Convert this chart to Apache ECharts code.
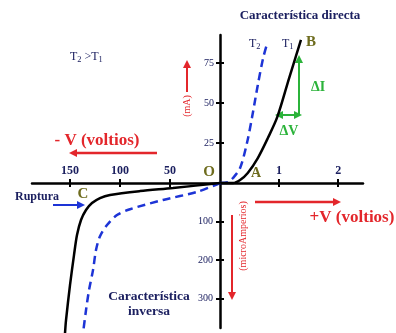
<!DOCTYPE html>
<html>
<head>
<meta charset="utf-8">
<script src="https://cdn.jsdelivr.net/npm/echarts@6/dist/echarts.min.js"></script>
<style>
html,body{margin:0;padding:0;background:#fff;}
#chart{width:396px;height:333px;}
</style>
</head>
<body>
<div id="chart"></div>
<script>
// ---- data (forward: V in volts, I in mA; reverse: V in volts, I in microamps) ----
const forwardT1 = [[0,0],[0.22,0],[0.34,1.9],[0.47,6.3],[0.64,15.6],[0.81,28.1],[0.97,41.3],[1.17,65.6],[1.37,89.4]];
const forwardT2 = [[0,0],[0.14,0.6],[0.22,3.1],[0.34,9.4],[0.46,25.6],[0.54,40.6],[0.64,61.3],[0.73,78.1],[0.80,87.5]];
const reverseT1 = [[0,0],[47,13],[80,21],[110,31],[120,39],[128,52],[134,70],[139,96],[143,135],[146,187],[150,265],[154,356],[155,390]];
const reverseT2 = [[0,0],[23,23],[57,44],[90,68],[103,83],[113,109],[120,138],[124,174],[127,226],[131,278],[134,330],[137,390]];
const fwdVTicks = [1, 2];
const fwdITicks = [25, 50, 75];
const revVTicks = [50, 100, 150];
const revITicks = [100, 200, 300];

const NAVY = '#1c2060', RED = '#e3262b', GREEN = '#2bb33a', OLIVE = '#6e6c1e', BLUE = '#1d34d6';
const SERIF = 'Liberation Serif';

function axisBase(extra) {
  return Object.assign({
    type: 'value',
    axisLine: { show: true, onZero: false, lineStyle: { color: '#000', width: 2.5 } },
    splitLine: { show: false }
  }, extra);
}

const chart = echarts.init(document.getElementById('chart'));

function arrow(x1, y1, x2, y2, color, w, both) {
  const els = [];
  const ang = Math.atan2(y2 - y1, x2 - x1);
  const L = 8, H = 4;
  function head(px, py, a) {
    const bx = px - L * Math.cos(a), by = py - L * Math.sin(a);
    return {
      type: 'polygon',
      shape: { points: [[px, py], [bx + H * Math.sin(a), by - H * Math.cos(a)], [bx - H * Math.sin(a), by + H * Math.cos(a)]] },
      style: { fill: color }
    };
  }
  const sx = both ? x1 + (L - 2) * Math.cos(ang) : x1, sy = both ? y1 + (L - 2) * Math.sin(ang) : y1;
  els.push({ type: 'line', shape: { x1: sx, y1: sy, x2: x2 - (L - 2) * Math.cos(ang), y2: y2 - (L - 2) * Math.sin(ang) }, style: { stroke: color, lineWidth: w } });
  els.push(head(x2, y2, ang));
  if (both) els.push(head(x1, y1, ang + Math.PI));
  return { type: 'group', children: els };
}

function txt(x, y, text, color, size, bold, opts) {
  return Object.assign({
    type: 'text', x: x, y: y,
    style: Object.assign({ text: text, fill: color, font: (bold ? 'bold ' : '') + size + 'px "' + SERIF + '"', align: 'center', verticalAlign: 'middle' }, opts && opts.style)
  }, opts && opts.el);
}

function subText(x, y, parts, size) {
  return {
    type: 'text', x: x, y: y,
    style: {
      text: parts, align: 'left', verticalAlign: 'middle',
      rich: {
        n: { fontFamily: SERIF, fontSize: size, fill: NAVY, color: NAVY },
        s: { fontFamily: SERIF, fontSize: size * 0.7, fill: NAVY, color: NAVY, padding: [size * 0.45, 0, 0, 0] }
      }
    }
  };
}

const option = {
  backgroundColor: '#fff',
  animation: false,
  grid: [
    { left: 220, right: 33, top: 35, bottom: 150 },
    { left: 32, right: 176, top: 183, bottom: 5 }
  ],
  xAxis: [
    axisBase({ gridIndex: 0, position: 'bottom', min: 0, max: 2.42, interval: 1,
      axisTick: { show: true, inside: false, length: 4, lineStyle: { color: '#000', width: 2 }, customValues: fwdVTicks },
      axisLabel: { show: true, inside: true, margin: 6, customValues: fwdVTicks, color: NAVY, fontFamily: SERIF, fontWeight: 'bold', fontSize: 12 } }),
    axisBase({ gridIndex: 0, position: 'bottom', min: 0, max: 2.42, interval: 1, axisLine: { show: false },
      axisTick: { show: true, inside: true, length: 4, lineStyle: { color: '#000', width: 2 }, customValues: fwdVTicks },
      axisLabel: { show: false } }),
    axisBase({ gridIndex: 1, position: 'top', inverse: true, min: 0, max: 188, interval: 50,
      axisTick: { show: true, inside: false, length: 4, lineStyle: { color: '#000', width: 2 }, customValues: revVTicks },
      axisLabel: { show: true, margin: 6, customValues: revVTicks, color: NAVY, fontFamily: SERIF, fontWeight: 'bold', fontSize: 12 } }),
    axisBase({ gridIndex: 1, position: 'top', inverse: true, min: 0, max: 188, interval: 50, axisLine: { show: false },
      axisTick: { show: true, inside: true, length: 4, lineStyle: { color: '#000', width: 2 }, customValues: revVTicks },
      axisLabel: { show: false } })
  ],
  yAxis: [
    axisBase({ gridIndex: 0, position: 'left', min: 0, max: 92.5, interval: 25,
      axisTick: { show: true, inside: false, length: 4, lineStyle: { color: '#000', width: 2 }, customValues: fwdITicks },
      axisLabel: { show: true, margin: 6, customValues: fwdITicks, color: NAVY, fontFamily: SERIF, fontSize: 10 } }),
    axisBase({ gridIndex: 0, position: 'left', min: 0, max: 92.5, interval: 25, axisLine: { show: false },
      axisTick: { show: true, inside: true, length: 4, lineStyle: { color: '#000', width: 2 }, customValues: fwdITicks },
      axisLabel: { show: false } }),
    axisBase({ gridIndex: 1, position: 'right', inverse: true, min: 0, max: 376, interval: 100,
      axisTick: { show: true, inside: false, length: 4, lineStyle: { color: '#000', width: 2 }, customValues: revITicks },
      axisLabel: { show: true, inside: true, margin: 7, customValues: revITicks, color: NAVY, fontFamily: SERIF, fontSize: 10 } }),
    axisBase({ gridIndex: 1, position: 'right', inverse: true, min: 0, max: 376, interval: 100, axisLine: { show: false },
      axisTick: { show: true, inside: true, length: 4, lineStyle: { color: '#000', width: 2 }, customValues: revITicks },
      axisLabel: { show: false } })
  ],
  series: [
    { type: 'line', name: 'T2 directa', xAxisIndex: 0, yAxisIndex: 0, data: forwardT2, showSymbol: false, symbol: 'none', smooth: 0.3, clip: false,
      lineStyle: { color: BLUE, width: 2.5, type: [8, 5] } },
    { type: 'line', name: 'T1 directa', xAxisIndex: 0, yAxisIndex: 0, data: forwardT1, showSymbol: false, symbol: 'none', smooth: 0.3, clip: false,
      lineStyle: { color: '#000', width: 2.5 } },
    { type: 'line', name: 'T2 inversa', xAxisIndex: 2, yAxisIndex: 2, data: reverseT2, showSymbol: false, symbol: 'none', smooth: 0.3, clip: false,
      lineStyle: { color: BLUE, width: 2.5, type: [8, 5] } },
    { type: 'line', name: 'T1 inversa', xAxisIndex: 2, yAxisIndex: 2, data: reverseT1, showSymbol: false, symbol: 'none', smooth: 0.3, clip: false,
      lineStyle: { color: '#000', width: 2.5 } }
  ],
  graphic: [
    txt(300, 16, 'Característica directa', NAVY, 13, true),
    subText(70, 57, '{n|T}{s|2}{n| >T}{s|1}', 12),
    subText(249, 44, '{n|T}{s|2}', 12),
    subText(282, 44, '{n|T}{s|1}', 12),
    txt(311, 42, 'B', OLIVE, 15, true),
    txt(209, 172, 'O', OLIVE, 15, true),
    txt(256, 173, 'A', OLIVE, 14, true),
    txt(83, 194, 'C', OLIVE, 15, true),
    txt(318, 87, 'ΔI', GREEN, 14, true),
    txt(289, 131, 'ΔV', GREEN, 14, true),
    txt(37, 197, 'Ruptura', NAVY, 12, true),
    txt(97, 141, '- V (voltios)', RED, 17, true),
    txt(352, 218, '+V (voltios)', RED, 17, true),
    txt(149, 297, 'Característica', NAVY, 13.5, true),
    txt(149, 312, 'inversa', NAVY, 13.5, true),
    txt(187, 106, '(mA)', RED, 10, false, { el: { rotation: Math.PI / 2 } }),
    txt(243, 236, '(microAmperios)', RED, 10, false, { el: { rotation: Math.PI / 2 } }),
    arrow(187, 92, 187, 60, RED, 2, false),
    arrow(157, 153, 69, 153, RED, 2.5, false),
    arrow(255, 202, 341, 202, RED, 2.5, false),
    arrow(232, 215, 232, 300, RED, 2, false),
    arrow(53, 205, 85, 205, BLUE, 2, false),
    arrow(299, 115, 299, 55, GREEN, 2, false),
    arrow(275, 115, 302, 115, GREEN, 2, true)
  ]
};
chart.setOption(option);
</script>
</body>
</html>
